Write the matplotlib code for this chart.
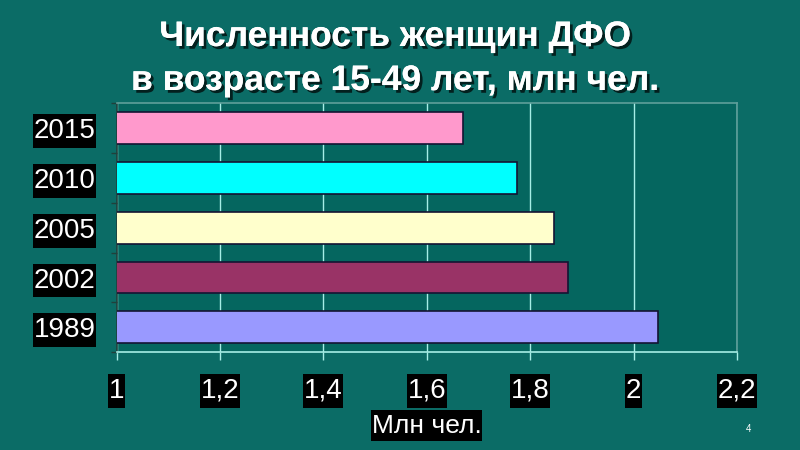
import matplotlib
matplotlib.use("Agg")
import matplotlib.pyplot as plt
import matplotlib.patheffects as pe
from matplotlib.path import Path
import numpy as np

# ---- data ----
years = ["1989", "2002", "2005", "2010", "2015"]
values = [2.048, 1.873, 1.846, 1.775, 1.671]
bar_colors = ["#9999ff", "#993366", "#ffffcc", "#00ffff", "#ff99cc"]
x_ticks = [1.0, 1.2, 1.4, 1.6, 1.8, 2.0, 2.2]
x_tick_labels = ["1", "1,2", "1,4", "1,6", "1,8", "2", "2,2"]
title_lines = ["Численность женщин ДФО", "в возрасте 15-49 лет, млн чел."]
x_label = "Млн чел."

plt.rcParams["font.family"] = ["Liberation Sans", "DejaVu Sans"]

BG = "#0b6c66"
fig = plt.figure(figsize=(8, 4.5), dpi=100, facecolor=BG)
ax = fig.add_axes([116.5 / 800, 1 - 352.3 / 450, (737 - 116.5) / 800, (352.3 - 103) / 450])
ax.set_facecolor("#05665f")

pos = np.arange(len(years))
ax.barh(pos, values, height=0.64, color=bar_colors, edgecolor="#141433", linewidth=1.2, zorder=3)

ax.set_xlim(1.0, 2.2)
ax.set_ylim(-0.5, len(years) - 0.5)

# grid
ax.set_xticks(x_ticks)
ax.set_xticklabels(x_tick_labels)
ax.grid(axis="x", color="#a6eee6", linewidth=1.0, zorder=1)
ax.grid(axis="y", visible=False)

# y ticks: labels at centers, tick marks at boundaries
ax.set_yticks(pos)
ax.set_yticklabels(years)
ax.set_yticks(np.arange(-0.5, len(years) + 0.5, 1.0), minor=True)
ax.tick_params(axis="y", which="major", length=0, pad=15, labelsize=20, labelcolor="white")
ax.tick_params(axis="y", which="minor", length=4, width=1, color="#20403c", direction="out")
ax.tick_params(axis="x", which="major", length=6, width=1, color="#a6eee6", direction="out",
               pad=12.5, labelsize=20, labelcolor="white")


def tall_box(x0, y0, width, height, mutation_size):
    # black label box: tight horizontally, extra room vertically
    px = 0.02 * mutation_size
    py = 0.14 * mutation_size
    xa, xb = x0 - px, x0 + width + px
    ya, yb = y0 - py, y0 + height + py
    return Path([(xa, ya), (xb, ya), (xb, yb), (xa, yb), (xa, ya)],
                [Path.MOVETO, Path.LINETO, Path.LINETO, Path.LINETO, Path.CLOSEPOLY])


for lbl in ax.get_xticklabels() + ax.get_yticklabels():
    lbl.set_bbox(dict(boxstyle=tall_box, facecolor="black", edgecolor="none"))

# spines
ax.spines["bottom"].set_color("#a6eee6")
ax.spines["bottom"].set_linewidth(1.2)
ax.spines["left"].set_color("#20403c")
ax.spines["left"].set_linewidth(1.2)
for s in ("top", "right"):
    ax.spines[s].set_color("#5e9f9a")
    ax.spines[s].set_linewidth(1.2)

# x label
xl = ax.set_xlabel(x_label, fontsize=19, color="white", labelpad=7)
xl.set_bbox(dict(boxstyle=tall_box, facecolor="black", edgecolor="none"))

# title with shadow
shadow = [pe.withSimplePatchShadow(offset=(2, -2), shadow_rgbFace="black", alpha=0.7), pe.Normal()]
fig.text(0.494, 1 - 46 / 450, title_lines[0], ha="center", va="baseline", fontsize=25.5,
         fontweight="bold", color="white", path_effects=shadow)
fig.text(0.494, 1 - 90 / 450, title_lines[1], ha="center", va="baseline", fontsize=25.5,
         fontweight="bold", color="white", path_effects=shadow)

# page number
fig.text(748 / 800, 1 - 432 / 450, "4", ha="center", va="baseline", fontsize=7, color="white")

fig.savefig("out.png", dpi=100, facecolor=BG)
